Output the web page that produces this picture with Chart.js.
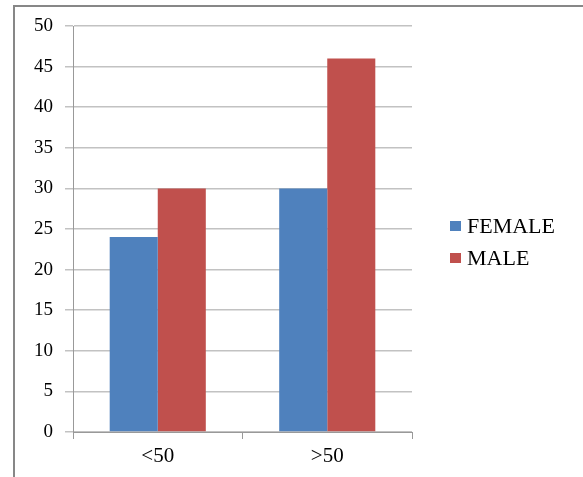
<!DOCTYPE html>
<html>
<head>
<meta charset="utf-8">
<script src="https://cdn.jsdelivr.net/npm/chart.js@4/dist/chart.umd.min.js"></script>
<style>
  html, body { margin: 0; padding: 0; background: #fff; }
  #wrap { width: 583px; height: 477px; position: relative; }
</style>
</head>
<body>
<div id="wrap"><canvas id="c" width="583" height="477"></canvas></div>
<script>
// Age groups and counts per sex
const categories = ['<50', '>50'];
const female = [24, 30];
const male = [30, 46];
const seriesNames = ['FEMALE', 'MALE'];
const seriesColors = ['#4F81BD', '#C0504D'];

const serif = "'Liberation Serif', 'Times New Roman', serif";

// Outer frame around the chart
const framePlugin = {
  id: 'frame',
  beforeDraw(chart) {
    const ctx = chart.ctx;
    ctx.save();
    ctx.fillStyle = '#fff';
    ctx.fillRect(0, 0, chart.width, chart.height);
    ctx.strokeStyle = '#878787';
    ctx.lineWidth = 2;
    ctx.strokeRect(14, 6, chart.width + 20, chart.height + 20);
    ctx.restore();
  }
};

// Legend on the right, drawn from the datasets
const sideLegend = {
  id: 'sideLegend',
  afterDraw(chart) {
    const ctx = chart.ctx;
    ctx.save();
    ctx.font = '22px ' + serif;
    ctx.textBaseline = 'middle';
    ctx.textAlign = 'left';
    chart.data.datasets.forEach((ds, i) => {
      const cy = 226 + i * 32;
      ctx.fillStyle = ds.backgroundColor;
      ctx.fillRect(450, cy - 5, 11, 10);
      ctx.fillStyle = '#000';
      ctx.fillText(ds.label, 467, cy + 1);
    });
    ctx.restore();
  }
};

new Chart(document.getElementById('c'), {
  type: 'bar',
  data: {
    labels: categories,
    datasets: [
      { label: seriesNames[0], data: female, backgroundColor: seriesColors[0] },
      { label: seriesNames[1], data: male, backgroundColor: seriesColors[1] }
    ]
  },
  options: {
    responsive: false,
    animation: false,
    devicePixelRatio: 1,
    layout: { padding: { left: 14, top: 26, right: 171, bottom: 0 } },
    plugins: { legend: { display: false }, tooltip: { enabled: false } },
    datasets: { bar: { barPercentage: 1, categoryPercentage: 0.567 } },
    scales: {
      x: {
        afterFit(s) { s.height = 45; },
        grid: { drawOnChartArea: false, drawTicks: true, tickLength: 7, color: '#999', offset: true },
        border: { display: true, color: '#999', width: 1 },
        ticks: { font: { family: serif, size: 21 }, color: '#000', padding: 5 }
      },
      y: {
        min: 0, max: 50,
        afterFit(s) { s.width = 59; },
        grid: { color: '#c2c2c2', lineWidth: 1.5, tickLength: 8, drawTicks: true },
        border: { display: true, color: '#999', width: 1 },
        ticks: { stepSize: 5, font: { family: serif, size: 19 }, color: '#000', padding: 12 }
      }
    }
  },
  plugins: [framePlugin, sideLegend]
});
</script>
</body>
</html>
